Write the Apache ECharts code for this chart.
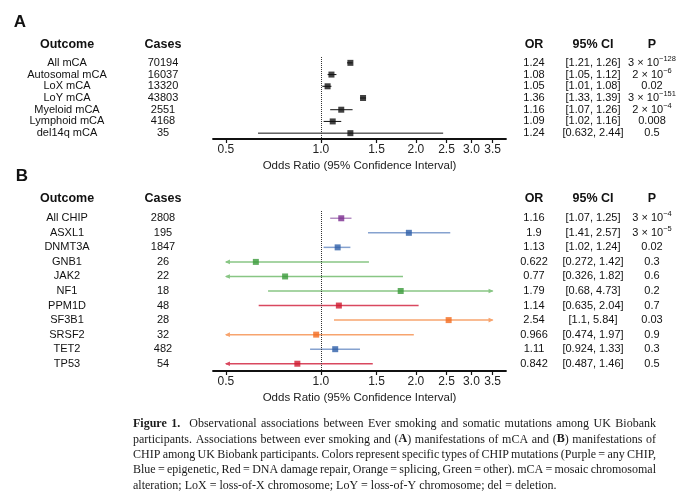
<!DOCTYPE html>
<html>
<head>
<meta charset="utf-8">
<script src="https://cdn.jsdelivr.net/npm/echarts@6/dist/echarts.min.js"></script>
<style>
html, body { margin: 0; padding: 0; background: #fff; }
#main { width: 680px; height: 494px; }
</style>
</head>
<body>
<div id="main"></div>
<script>
// panel A: mCA
const outcomesA = ['All mCA', 'Autosomal mCA', 'LoX mCA', 'LoY mCA', 'Myeloid mCA', 'Lymphoid mCA', 'del14q mCA']
const casesA = [70194, 16037, 13320, 43803, 2551, 4168, 35]
const orA = [1.24, 1.08, 1.05, 1.36, 1.16, 1.09, 1.24]
const loA = [1.21, 1.05, 1.01, 1.33, 1.07, 1.02, 0.632]
const hiA = [1.26, 1.12, 1.08, 1.39, 1.26, 1.16, 2.44]
const pA = ['3 × 10^-128', '2 × 10^-6', '0.02', '3 × 10^-151', '2 × 10^-4', '0.008', '0.5']

// panel B: CHIP
const outcomesB = ['All CHIP', 'ASXL1', 'DNMT3A', 'GNB1', 'JAK2', 'NF1', 'PPM1D', 'SF3B1', 'SRSF2', 'TET2', 'TP53']
const casesB = [2808, 195, 1847, 26, 22, 18, 48, 28, 32, 482, 54]
const orB = [1.16, 1.9, 1.13, 0.622, 0.77, 1.79, 1.14, 2.54, 0.966, 1.11, 0.842]
const loB = [1.07, 1.41, 1.02, 0.272, 0.326, 0.68, 0.635, 1.1, 0.474, 0.924, 0.487]
const hiB = [1.25, 2.57, 1.24, 1.42, 1.82, 4.73, 2.04, 5.84, 1.97, 1.33, 1.46]
const pB = ['3 × 10^-4', '3 × 10^-5', '0.02', '0.3', '0.6', '0.2', '0.7', '0.03', '0.9', '0.3', '0.5']
const groupB = ['any', 'epigenetic', 'epigenetic', 'other', 'other', 'other', 'dna', 'splicing', 'splicing', 'epigenetic', 'dna']

const xTicks = [0.5, 1.0, 1.5, 2.0, 2.5, 3.0, 3.5]
const headers = ['Outcome', 'Cases', 'OR', '95% CI', 'P']
// {b|...} marks bold words; one word per mark so the words can be spread
const caption = [
    '{b|Figure} {b|1.}  Observational associations between Ever smoking and somatic mutations among UK Biobank',
    'participants. Associations between ever smoking and ({b|A}) manifestations of mCA and ({b|B}) manifestations of',
    'CHIP among UK Biobank participants. Colors represent specific types of CHIP mutations (Purple = any CHIP,',
    'Blue = epigenetic, Red = DNA damage repair, Orange = splicing, Green = other). mCA = mosaic chromosomal',
    'alteration; LoX = loss-of-X chromosome; LoY = loss-of-Y chromosome; del = deletion.',
]

const palette = {
    any: { line: '#b48dc2', box: '#7b2c8f' },
    epigenetic: { line: '#86a2cf', box: '#2d5ea8' },
    other: { line: '#88c684', box: '#3a9a3a' },
    dna: { line: '#d9485f', box: '#d0192e' },
    splicing: { line: '#f7a46e', box: '#f26a1e' },
}

const SANS = '"Liberation Sans", Arial, sans-serif'
const SERIF = '"Liberation Serif", "Times New Roman", serif'
const CLIP = [0.5, 3.5]
const colX = [67, 163, 534, 593, 652]
const plotL = 213
const plotR = 506
const capL = 133
const capR = 656
const capSize = 12

const fmtCI = (lo, hi) => `[${lo}, ${hi}]`
const fmtP = s => s.replace(/10\^-(\d+)/, '10{sup|−$1}')

const arrow = (p, dir, color) => ({
    type: 'polygon',
    shape: {
        points: [
            [p[0] + dir * 1, p[1]],
            [p[0] - dir * 4, p[1] - 2.3],
            [p[0] - dir * 4, p[1] + 2.3],
        ],
    },
    style: { fill: color },
})

const ciRenderer = (colorOf, width) => (params, api) => {
    const row = api.value(2)
    const lo = api.value(0)
    const hi = api.value(1)
    const p1 = api.coord([Math.max(lo, CLIP[0]), row])
    const p2 = api.coord([Math.min(hi, CLIP[1]), row])
    const color = colorOf(params.dataIndex)
    const kids = [
        {
            type: 'line',
            shape: { x1: p1[0], y1: p1[1], x2: p2[0], y2: p2[1] },
            style: { stroke: color, lineWidth: width },
        },
    ]
    if (lo < CLIP[0]) kids.push(arrow(p1, -1, color))
    if (hi > CLIP[1]) kids.push(arrow(p2, 1, color))
    return { type: 'group', children: kids }
}

const xAxis = grid => ({
    type: 'log',
    gridIndex: grid,
    min: 0.455,
    max: 3.86,
    axisLine: { show: true, lineStyle: { color: '#111', width: 1.8 } },
    axisTick: { show: true, length: 4, customValues: xTicks, lineStyle: { color: '#111', width: 1.2 } },
    minorTick: { show: false },
    splitLine: { show: false },
    axisLabel: {
        customValues: xTicks,
        formatter: v => v.toFixed(1),
        margin: 5,
        fontSize: 12,
        color: '#222',
        fontFamily: SANS,
    },
    name: 'Odds Ratio (95% Confidence Interval)',
    nameLocation: 'middle',
    nameGap: 21,
    nameTextStyle: { fontSize: 11.5, color: '#222', fontFamily: SANS },
})

const colAxis = (grid, names, position, margin, formatter) => ({
    type: 'category',
    gridIndex: grid,
    position,
    inverse: true,
    data: names,
    axisLine: { show: false },
    axisTick: { show: false },
    splitLine: { show: false },
    axisLabel: {
        interval: 0,
        margin,
        align: 'center',
        fontSize: 11,
        color: '#111',
        fontFamily: SANS,
        formatter,
        rich: {
            sup: { fontSize: 7.5, padding: [0, 0, 8, 0], fontFamily: SANS, color: '#111' },
        },
    },
})

const tableAxes = (grid, names, cases, or, lo, hi, p) => [
    colAxis(grid, names, 'left', plotL - colX[0], v => v),
    colAxis(grid, names, 'left', plotL - colX[1], (v, i) => String(cases[i])),
    colAxis(grid, names, 'right', colX[2] - plotR, (v, i) => String(or[i])),
    colAxis(grid, names, 'right', colX[3] - plotR, (v, i) => fmtCI(lo[i], hi[i])),
    colAxis(grid, names, 'right', colX[4] - plotR, (v, i) => fmtP(p[i])),
]

const refLine = {
    silent: true,
    symbol: 'none',
    label: { show: false },
    lineStyle: { type: 'dotted', color: '#333', width: 1 },
    data: [{ xAxis: 1 }],
}

const text = (x, y, str, size, weight, align) => ({
    type: 'text',
    x,
    y,
    style: {
        text: str,
        fontSize: size,
        fontWeight: weight,
        fontFamily: SANS,
        fill: '#111',
        align: align,
        verticalAlign: 'middle',
    },
})

// caption words are spread out so each full line is justified like the printed figure
const ctx = document.createElement('canvas').getContext('2d')
const measure = tok => {
    let w = 0
    tok.split(/(\{b\|[^}]*\})/).forEach(seg => {
        if (!seg) return
        const m = seg.match(/^\{b\|([^}]*)\}$/)
        ctx.font = (m ? 'bold ' : '') + capSize + 'px ' + SERIF
        w += ctx.measureText(m ? m[1] : seg).width
    })
    return w
}
ctx.font = capSize + 'px ' + SERIF
const spaceW = ctx.measureText(' ').width

const captionWords = (line, row) => {
    const words = line.split(' ')
    const widths = words.map(measure)
    const total = widths.reduce((a, b) => a + b, 0)
    const gaps = words.length - 1
    const last = row === caption.length - 1
    const gap = last ? spaceW : (capR - capL - total) / gaps
    let x = capL
    return words.map((w, i) => {
        const el = {
            type: 'text',
            x,
            y: 424 + row * 15.4,
            style: {
                text: w,
                fontSize: capSize,
                fontFamily: SERIF,
                fill: '#1a1a1a',
                verticalAlign: 'middle',
                rich: { b: { fontWeight: 'bold', fontSize: capSize, fontFamily: SERIF, fill: '#1a1a1a' } },
            },
        }
        x += widths[i] + gap
        return el
    })
}

const graphics = [text(20, 22, 'A', 17, 'bold', 'center'), text(22, 176, 'B', 17, 'bold', 'center')]
headers.forEach((h, i) => {
    graphics.push(text(colX[i], 45, h, 12.5, 'bold', 'center'))
    graphics.push(text(colX[i], 199, h, 12.5, 'bold', 'center'))
})
caption.forEach((line, i) => graphics.push(...captionWords(line, i)))

const chart = echarts.init(document.getElementById('main'), null, { renderer: 'canvas' })
chart.setOption({
    animation: false,
    backgroundColor: '#fff',
    textStyle: { fontFamily: SANS },
    grid: [
        { left: plotL, right: 680 - plotR, top: 57, height: 82 },
        { left: plotL, right: 680 - plotR, top: 211, height: 160 },
    ],
    xAxis: [xAxis(0), xAxis(1)],
    yAxis: [
        ...tableAxes(0, outcomesA, casesA, orA, loA, hiA, pA),
        ...tableAxes(1, outcomesB, casesB, orB, loB, hiB, pB),
    ],
    graphic: graphics,
    series: [
        {
            type: 'custom',
            xAxisIndex: 0,
            yAxisIndex: 0,
            encode: { x: [0, 1], y: 2 },
            renderItem: ciRenderer(() => '#111', 1),
            data: loA.map((v, i) => [v, hiA[i], i]),
            z: 2,
        },
        {
            type: 'scatter',
            xAxisIndex: 0,
            yAxisIndex: 0,
            symbol: 'rect',
            symbolSize: 6,
            itemStyle: { color: '#111' },
            data: orA.map((v, i) => [v, i]),
            markLine: refLine,
            z: 3,
        },
        {
            type: 'custom',
            xAxisIndex: 1,
            yAxisIndex: 5,
            encode: { x: [0, 1], y: 2 },
            renderItem: ciRenderer(i => palette[groupB[i]].line, 1.5),
            data: loB.map((v, i) => [v, hiB[i], i]),
            z: 2,
        },
        {
            type: 'scatter',
            xAxisIndex: 1,
            yAxisIndex: 5,
            symbol: 'rect',
            symbolSize: 6,
            itemStyle: { color: p => palette[groupB[p.dataIndex]].box },
            data: orB.map((v, i) => [v, i]),
            markLine: refLine,
            z: 3,
        },
    ],
})
</script>
</body>
</html>
